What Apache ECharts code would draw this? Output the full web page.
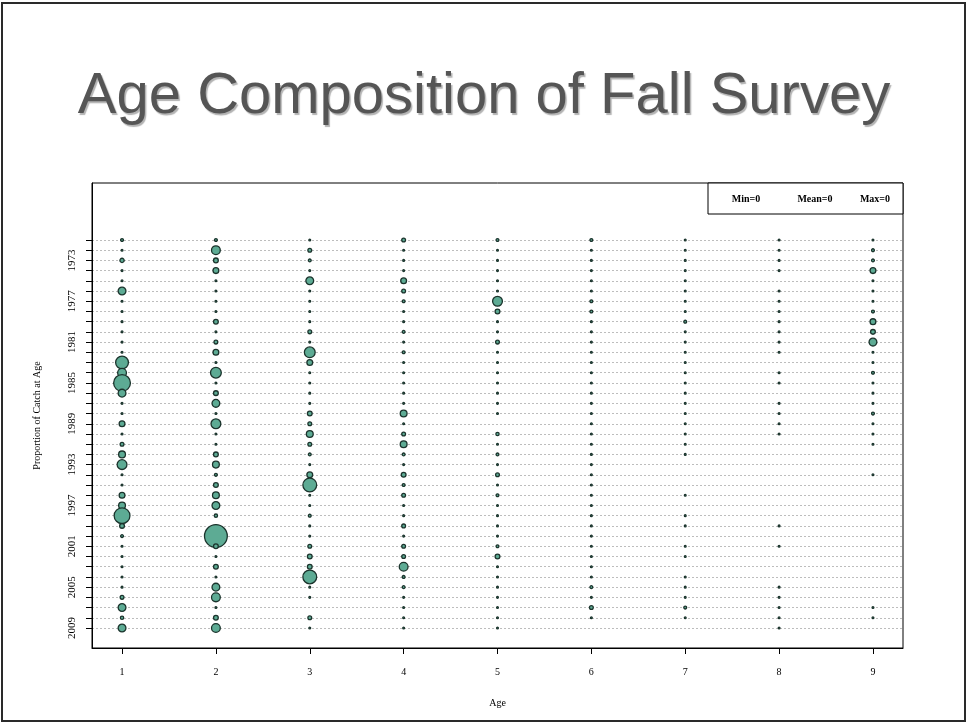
<!DOCTYPE html>
<html>
<head>
<meta charset="utf-8">
<script src="https://cdn.jsdelivr.net/npm/echarts@6/dist/echarts.min.js"></script>
<style>
html,body{margin:0;padding:0;background:#fff;}
#chart{width:968px;height:726px;}
</style>
</head>
<body>
<div id="chart"></div>
<script>
// Categories
const ages = [1, 2, 3, 4, 5, 6, 7, 8, 9];
const years = [1971,1972,1973,1974,1975,1976,1977,1978,1979,1980,1981,1982,1983,1984,1985,1986,1987,1988,1989,1990,
               1991,1992,1993,1994,1995,1996,1997,1998,1999,2000,2001,2002,2003,2004,2005,2006,2007,2008,2009];
const yearLabels = [1973, 1977, 1981, 1985, 1989, 1993, 1997, 2001, 2005, 2009];

// Proportion of catch at age, one array per age (rows follow `years`)
const age1 = [.017,.004,.031,.004,.004,.084,.004,.004,.004,.009,.004,.009,.204,.104,.337,.084,.004,.001,.051,.004,.026,.067,.126,.001,.004,.051,.067,.300,.037,.017,.004,.004,.004,.004,.004,.026,.084,.021,.084];
const age2 = [.017,.104,.037,.051,.004,.004,.004,.009,.037,.004,.026,.051,.004,.150,.004,.037,.084,.004,.126,.009,.004,.037,.067,.017,.037,.067,.084,.021,.009,.600,.037,.004,.037,.004,.084,.104,.004,.037,.104];
const age3 = [.004,.026,.017,.004,.084,.004,.004,.009,.004,.026,.004,.150,.051,.004,.004,.004,.004,.037,.026,.067,.026,.017,.004,.051,.234,.004,.004,.017,.004,.002,.026,.037,.037,.234,.004,.004,null,.026,.004];
const age4 = [.026,.004,.004,.004,.051,.026,.017,.009,.004,.017,.009,.017,.004,.004,.004,.004,.004,.067,.004,.026,.067,.017,.004,.037,.017,.026,.009,.004,.026,.004,.026,.026,.104,.017,.017,.004,.004,.004,.004];
const age5 = [.017,.002,.004,.004,.004,.009,.126,.037,.009,.004,.026,.009,.004,.004,.004,.009,.009,.009,null,.021,.004,.017,.004,.026,.009,.017,.009,.004,.009,.004,.017,.037,.004,.009,.009,.004,.004,.004,.004];
const age6 = [.017,.009,.004,.004,.004,.004,.017,.017,.004,.009,.004,.004,.004,.004,.004,.004,.004,.004,.004,.004,.004,.004,.004,.004,.004,.004,.004,.004,.004,.004,.004,.009,.004,.004,.017,.004,.026,.004,null];
const age7 = [.004,.004,.004,.004,.009,.009,.004,.009,.017,.004,.004,.004,.004,.004,.004,.004,.004,.009,.004,.004,.004,.004,null,null,null,.004,null,.004,.004,null,.004,.004,null,.004,.004,.009,.017,.004,null];
const age8 = [.004,.004,.004,.004,null,.004,.004,.004,.004,.009,.009,.004,null,.004,.004,null,.004,.004,.004,.004,null,null,null,null,null,null,null,null,.004,null,.004,null,null,null,.004,.004,.004,.004,.004];
const age9 = [.004,.017,.017,.051,.004,.004,.004,.017,.051,.037,.084,.004,.009,.017,.004,.004,.004,.017,.004,.004,.009,null,null,.004,null,null,null,null,null,null,null,null,null,null,null,null,.004,.009,null];

const ageSeries = [age1, age2, age3, age4, age5, age6, age7, age8, age9];
const points = [];
ageSeries.forEach((arr, ai) => {
  arr.forEach((v, yi) => {
    if (v !== null) points.push([ages[ai], years[yi], v]);
  });
});

const serif = "'Liberation Serif', 'DejaVu Serif', serif";
const chart = echarts.init(document.getElementById('chart'), null, {renderer: 'canvas'});
chart.setOption({
  animation: false,
  backgroundColor: '#fff',
  title: {
    text: 'Age Composition of Fall Survey',
    left: 'center',
    top: 63,
    textStyle: {
      fontFamily: "'Liberation Sans', Arial, sans-serif",
      fontSize: 58,
      fontWeight: 'normal',
      color: '#555555',
      textShadowColor: 'rgba(0,0,0,0.3)',
      textShadowOffsetX: 1.5,
      textShadowOffsetY: 1.5,
      textShadowBlur: 1
    }
  },
  graphic: [
    {type: 'rect', shape: {x: 2, y: 3, width: 963, height: 718}, style: {fill: 'none', stroke: '#2a2a2a', lineWidth: 2}, silent: true},
    {type: 'rect', shape: {x: 708, y: 183, width: 195, height: 31}, style: {fill: '#fff', stroke: '#000', lineWidth: 1}, silent: true, z: 10},
    {type: 'text', x: 746, y: 199, style: {text: 'Min=0', fontFamily: serif, fontSize: 10, fontWeight: 'bold', fill: '#000', align: 'center', verticalAlign: 'middle'}, z: 11},
    {type: 'text', x: 815, y: 199, style: {text: 'Mean=0', fontFamily: serif, fontSize: 10, fontWeight: 'bold', fill: '#000', align: 'center', verticalAlign: 'middle'}, z: 11},
    {type: 'text', x: 875, y: 199, style: {text: 'Max=0', fontFamily: serif, fontSize: 10, fontWeight: 'bold', fill: '#000', align: 'center', verticalAlign: 'middle'}, z: 11}
  ],
  grid: {left: 92, right: 65, top: 183, bottom: 78, show: true, borderColor: '#000', borderWidth: 1, backgroundColor: 'transparent'},
  xAxis: {
    type: 'value', min: 0.68, max: 9.32,
    name: 'Age', nameLocation: 'middle', nameGap: 50,
    nameTextStyle: {fontFamily: serif, fontSize: 10, color: '#000'},
    axisLine: {show: true, lineStyle: {color: '#000', width: 1}},
    axisTick: {show: true, customValues: ages, length: 6, lineStyle: {color: '#000'}},
    axisLabel: {customValues: ages, margin: 19, fontFamily: serif, fontSize: 10, color: '#000', formatter: (v) => String(Math.round(v))},
    splitLine: {show: false}
  },
  yAxis: {
    type: 'value', inverse: true, min: 1965.42, max: 2010.96,
    name: 'Proportion of Catch at Age', nameLocation: 'middle', nameRotate: 90, nameGap: 50,
    nameTextStyle: {fontFamily: serif, fontSize: 10, color: '#000'},
    axisLine: {show: true, lineStyle: {color: '#000', width: 1}},
    axisTick: {show: true, customValues: years, length: 6, lineStyle: {color: '#000'}},
    axisLabel: {customValues: yearLabels, rotate: 90, margin: 14, fontFamily: serif, fontSize: 11, color: '#000', formatter: (v) => String(Math.round(v))},
    splitLine: {show: true, lineStyle: {color: '#bdbdbd', width: 1, type: [2, 2]}}
  },
  series: [{
    type: 'scatter',
    data: points,
    symbol: 'circle',
    symbolSize: (v) => Math.max(1.8, 31 * Math.sqrt(v[2]) - 1.2),
    itemStyle: {color: '#5dab94', borderColor: '#1b332c', borderWidth: 1.3, opacity: 1},
    silent: true
  }]
});
</script>
</body>
</html>
